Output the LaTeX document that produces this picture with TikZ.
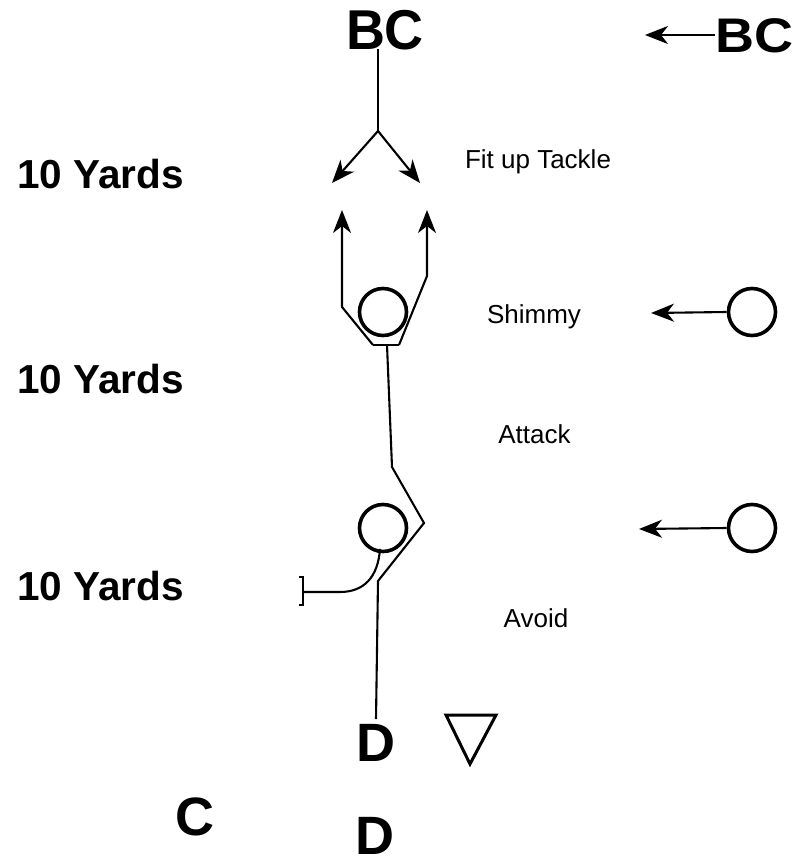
\documentclass[tikz,border=0pt]{standalone}
\usepackage{fontspec}
\setmainfont{Liberation Sans}
\usetikzlibrary{arrows.meta}
\begin{document}
\begin{tikzpicture}[x=1pt,y=-1pt,
  thin line/.style={line width=2.1pt, line join=miter},
  tipline/.style={thin line, -{Stealth[length=23pt,width=18pt,inset=7pt]}},
  player/.style={circle, draw, line width=3.6pt, minimum size=47pt, inner sep=0pt},
  big/.style={font=\fontsize{54}{54}\selectfont\bfseries, inner sep=0pt, anchor=base},
  yards/.style={font=\fontsize{40.5}{40.5}\selectfont\bfseries, inner sep=0pt, anchor=base west},
  cue/.style={font=\fontsize{26}{26}\selectfont, inner sep=0pt, anchor=base}]
\useasboundingbox (0,0) rectangle (795,861);

% ball carriers
\node[big] (bc) at (385,50) {\scalebox{1}[1.04]{BC}};
\node[big] (bcr) at (754,53) {\scalebox{1}[0.9]{BC}};

% distance markers
\node[yards] (y1) at (17,189) {10 Yards};
\node[yards] (y2) at (17,393) {10 Yards};
\node[yards] (y3) at (17,600) {10 Yards};

% coaching cues
\node[cue] (fit) at (538,168) {Fit up Tackle};
\node[cue] (shim) at (534,323) {Shimmy};
\node[cue] (att) at (534.5,443) {Attack};
\node[cue] (avd) at (536,627) {Avoid};

% defenders and extra letters
\node[big] (c) at (195,835) {C};
\node[big] (d1) at (375.5,761) {D};
\node[big] (d2) at (374.5,854) {D};
\draw[line width=3pt, line join=miter] (446,715) -- (496,715) -- (470,764) -- cycle;

% players on the field
\node[player] (p1) at (383,312) {};
\node[player] (p2) at (383,528) {};
\node[player] (r1) at (752,312) {};
\node[player] (r2) at (752,528) {};

% arrows on the right side
\coordinate (bcrt) at (645,35);
\coordinate (r1t) at (651,313);
\coordinate (r2t) at (639,529);
\draw[tipline] (bcr.west |- bcrt) -- (bcrt);
\draw[tipline] (r1.west) -- (r1t);
\draw[tipline] (r2.west) -- (r2t);

% ball carrier split into two arrows
\coordinate (split) at (378,131);
\coordinate (tl) at (332,183);
\coordinate (tr) at (420,183);
\draw[thin line] (378,49) -- (split);
\draw[tipline] (split) -- (tl);
\draw[tipline] (split) -- (tr);

% route from the lower D up to the fit-up arrows
\coordinate (a0) at (376,719);
\coordinate (a1) at (378,581);
\coordinate (a2) at (424,523);
\coordinate (a3) at (392,467);
\coordinate (a4) at (387,345);
\draw[thin line] (a0) -- (a1) -- (a2) -- (a3) -- (a4);

\coordinate (bl) at (373,345);
\coordinate (br) at (399,345);
\coordinate (ul) at (342,307);
\coordinate (ur) at (427,276);
\coordinate (ualt) at (342,210);
\coordinate (uart) at (427,210);
\draw[thin line] (bl) -- (br);
\draw[tipline] (bl) -- (ul) -- (ualt);
\draw[tipline] (br) -- (ur) -- (uart);

% avoid path with end bar
\coordinate (cv) at (340,592);
\coordinate (cb) at (303,592);
\draw[thin line] (380,549) .. controls (378,577) and (364,592) .. (cv) -- (cb);
\draw[thin line] (299,577) -- (303,577) -- (303,605) -- (299,605);
\end{tikzpicture}
\end{document}
